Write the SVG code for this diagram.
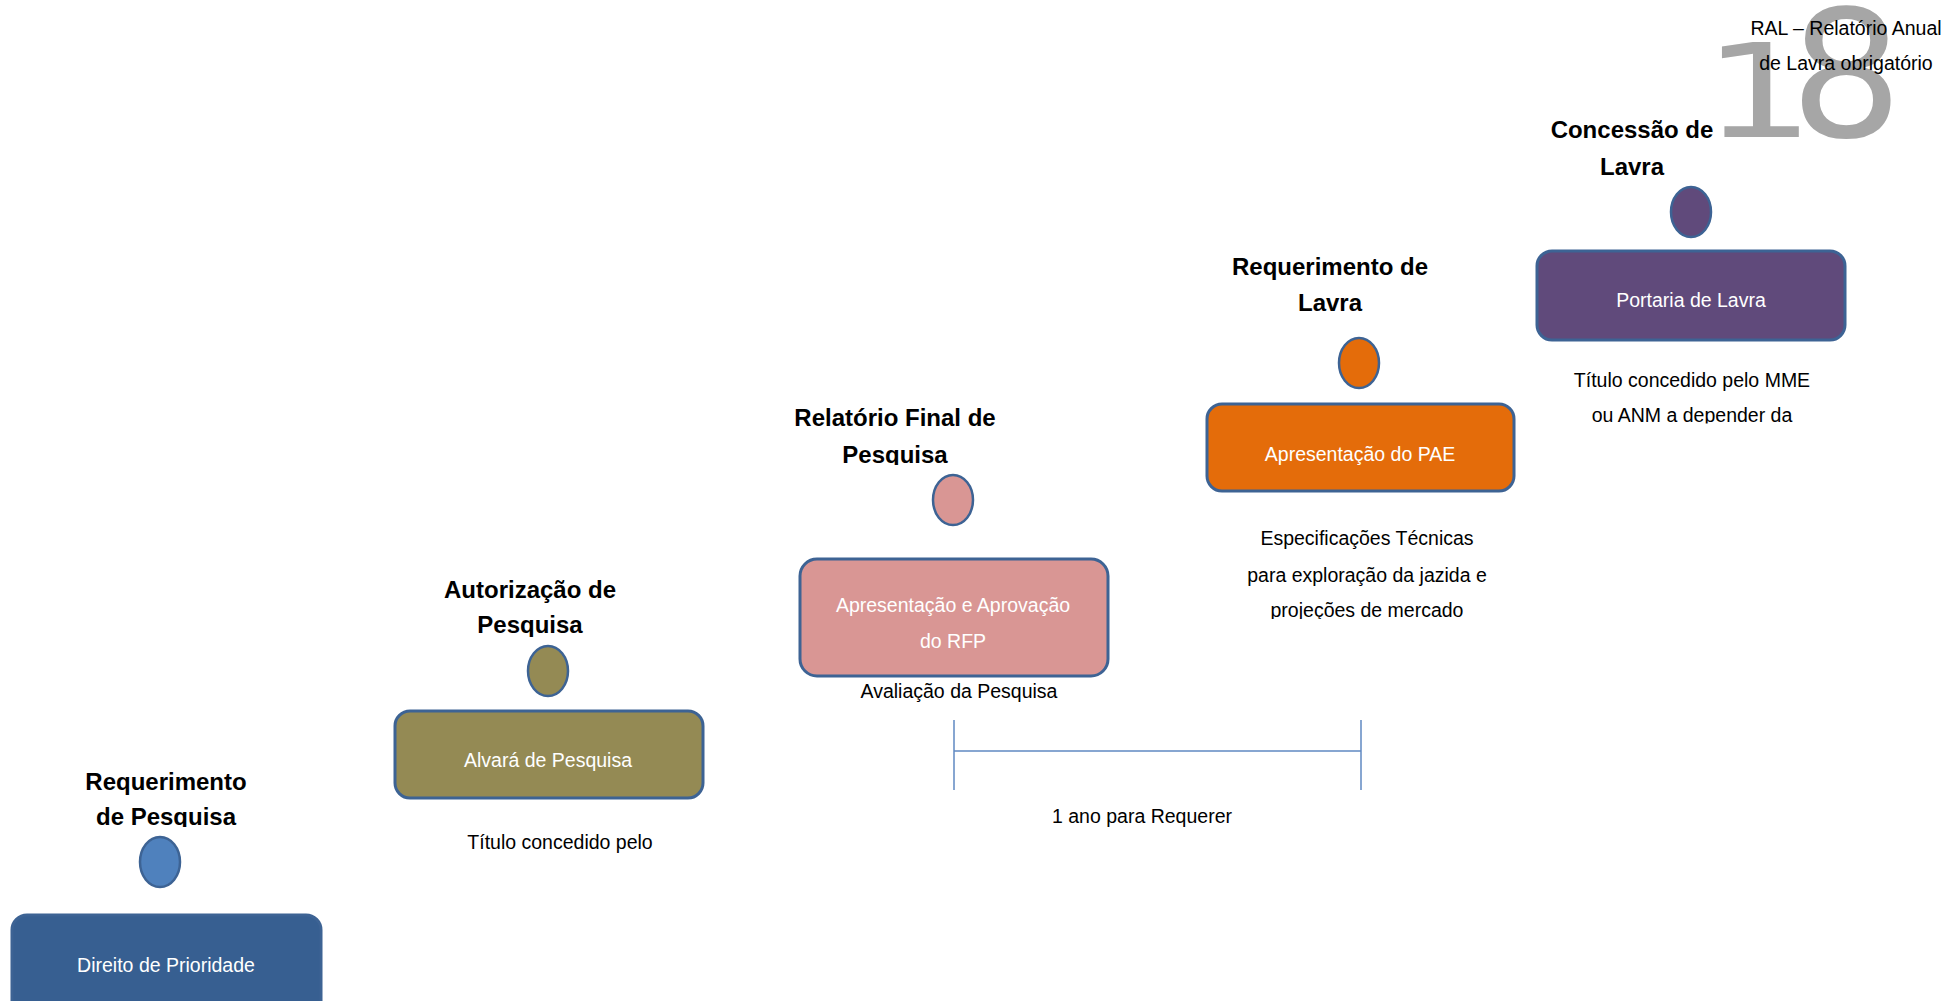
<svg xmlns="http://www.w3.org/2000/svg" width="1951" height="1001" viewBox="0 0 1951 1001">
<style>
.box{stroke:#3d6394;stroke-width:3}
.dot{stroke:#3d6394;stroke-width:2.5}
.title{font-family:"Liberation Sans",Arial,sans-serif;font-weight:bold;font-size:24px;fill:#000;text-anchor:middle}
.in{font-family:"Liberation Sans",Arial,sans-serif;font-size:19.5px;fill:#fff;text-anchor:middle}
.note{font-family:"Liberation Sans",Arial,sans-serif;font-size:19.5px;fill:#000;text-anchor:middle}
.big{font-family:"DejaVu Sans",sans-serif;font-size:177px;fill:#a6a6a6}
.span{stroke:#5f88c2;stroke-width:1.5;fill:none}
</style>
<defs>
<clipPath id="c1" clipPathUnits="userSpaceOnUse"><rect x="0" y="740" width="400" height="87"/></clipPath>
<clipPath id="c2" clipPathUnits="userSpaceOnUse"><rect x="380" y="560" width="320" height="77"/></clipPath>
<clipPath id="c3" clipPathUnits="userSpaceOnUse"><rect x="760" y="390" width="320" height="75"/></clipPath>
<clipPath id="c4" clipPathUnits="userSpaceOnUse"><rect x="1200" y="520" width="340" height="99"/></clipPath>
<clipPath id="c5" clipPathUnits="userSpaceOnUse"><rect x="1530" y="360" width="340" height="63.5"/></clipPath>
</defs>
<rect width="1951" height="1001" fill="#fff"/>

<g id="page-number">
<text class="big" x="1702.5" y="137" transform="translate(0,137) scale(1,0.73) translate(0,-137)">1</text>
<text class="big" x="1790" y="137">8</text>
</g>

<g id="connectors">
<line class="span" x1="954" y1="720" x2="954" y2="790"/>
<line class="span" x1="1361" y1="720" x2="1361" y2="790"/>
<line class="span" x1="954" y1="751" x2="1361" y2="751"/>
<text class="note" x="1142" y="823">1 ano para Requerer</text>
</g>

<g id="node-requerimento-pesquisa">
<g clip-path="url(#c1)"><text class="title" x="166" y="790">Requerimento</text><text class="title" x="166" y="825">de Pesquisa</text></g>
<ellipse class="dot" cx="160" cy="862" rx="20" ry="25" fill="#4f81bd"/>
<rect class="box" x="12" y="915" width="309" height="110" rx="15" fill="#375f91" stroke="#375f91"/>
<text class="in" x="166" y="972">Direito de Prioridade</text>
</g>

<g id="node-autorizacao-pesquisa">
<g clip-path="url(#c2)"><text class="title" x="530" y="598">Autorização de</text><text class="title" x="530" y="633">Pesquisa</text></g>
<ellipse class="dot" cx="548" cy="671" rx="20" ry="25" fill="#948a54"/>
<rect class="box" x="395" y="711" width="308" height="87" rx="15" fill="#948a54"/>
<text class="in" x="548" y="767">Alvará de Pesquisa</text>
<text class="note" x="560" y="849">Título concedido pelo</text>
</g>

<g id="node-relatorio-final">
<g clip-path="url(#c3)"><text class="title" x="895" y="426">Relatório Final de</text><text class="title" x="895" y="463">Pesquisa</text></g>
<ellipse class="dot" cx="953" cy="500" rx="20" ry="25" fill="#d99694"/>
<rect class="box" x="800" y="559" width="308" height="117" rx="17" fill="#d99694"/>
<text class="in" x="953" y="612">Apresentação e Aprovação</text>
<text class="in" x="953" y="648">do RFP</text>
<text class="note" x="959" y="698">Avaliação da Pesquisa</text>
</g>

<g id="node-requerimento-lavra">
<text class="title" x="1330" y="275">Requerimento de</text>
<text class="title" x="1330" y="311">Lavra</text>
<ellipse class="dot" cx="1359" cy="363" rx="20" ry="25" fill="#e46c0a"/>
<rect class="box" x="1207" y="404" width="307" height="87" rx="15" fill="#e46c0a"/>
<text class="in" x="1360" y="461">Apresentação do PAE</text>
<g clip-path="url(#c4)">
<text class="note" x="1367" y="545">Especificações Técnicas</text>
<text class="note" x="1367" y="582">para exploração da jazida e</text>
<text class="note" x="1367" y="617">projeções de mercado</text>
</g>
</g>

<g id="node-concessao-lavra">
<text class="title" x="1632" y="138">Concessão de</text>
<text class="title" x="1632" y="175">Lavra</text>
<ellipse class="dot" cx="1691" cy="212" rx="20" ry="25" fill="#604a7b"/>
<rect class="box" x="1537" y="251" width="308" height="89" rx="15" fill="#604a7b"/>
<text class="in" x="1691" y="307">Portaria de Lavra</text>
<g clip-path="url(#c5)">
<text class="note" x="1692" y="387">Título concedido pelo MME</text>
<text class="note" x="1692" y="422">ou ANM a depender da</text>
</g>
</g>

<g id="note-ral">
<text class="note" x="1846" y="35">RAL – Relatório Anual</text>
<text class="note" x="1846" y="70">de Lavra obrigatório</text>
</g>
</svg>
